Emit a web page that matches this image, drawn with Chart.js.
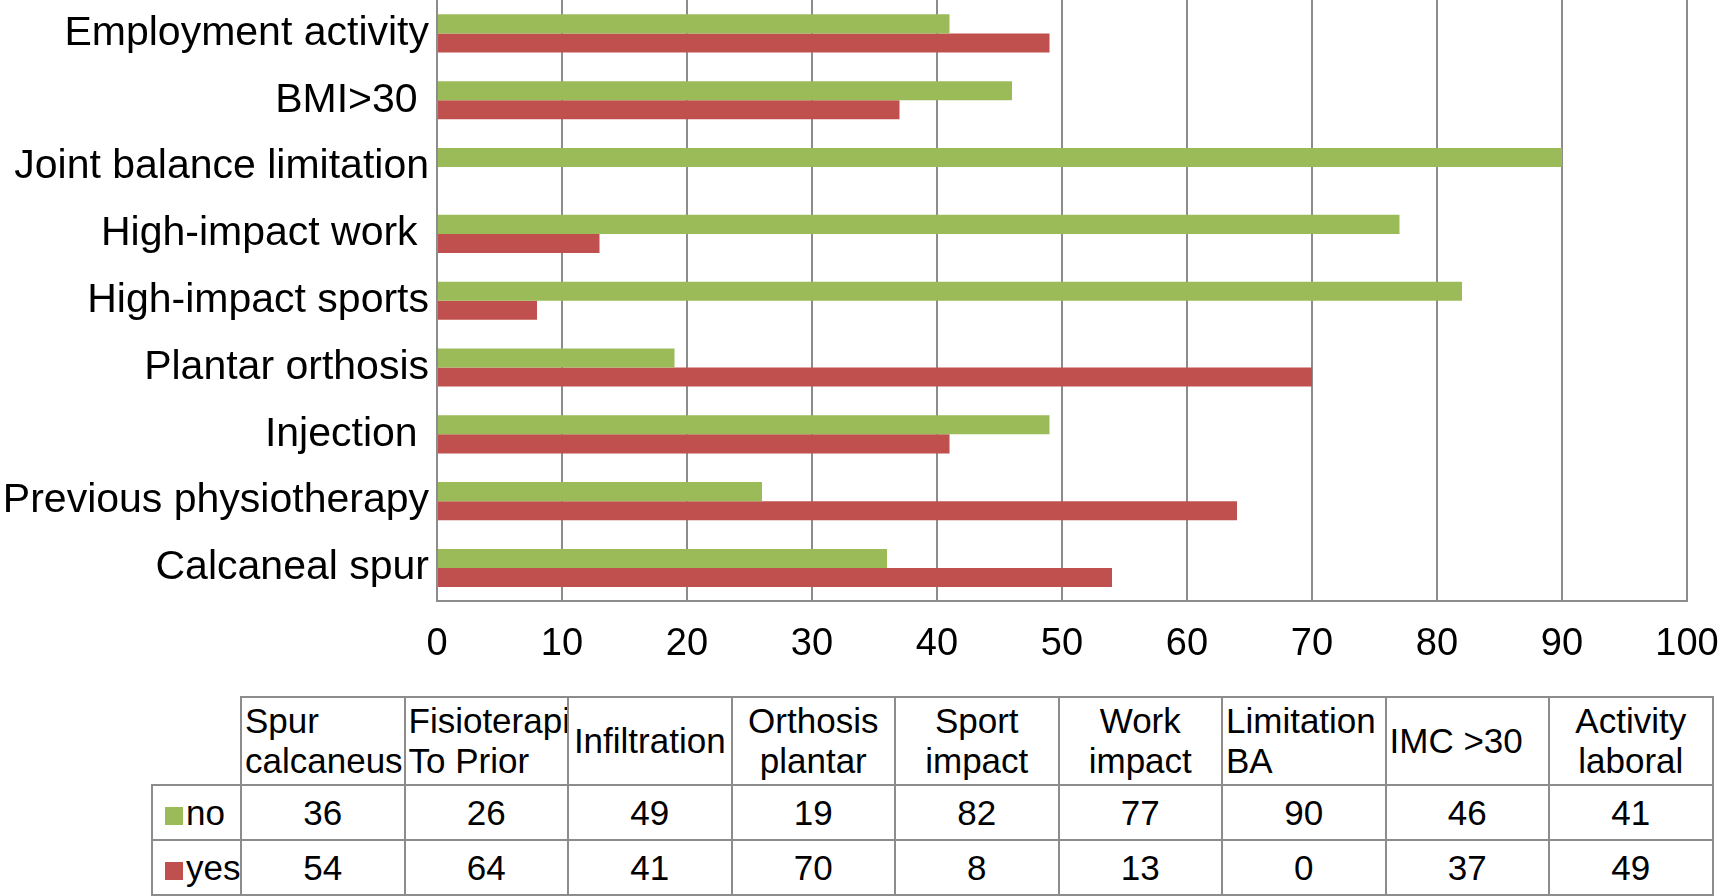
<!DOCTYPE html>
<html>
<head>
<meta charset="utf-8">
<script src="https://cdn.jsdelivr.net/npm/chart.js@4/dist/chart.umd.min.js"></script>
<style>
html,body{margin:0;padding:0;background:#fff;width:1727px;height:896px;overflow:hidden;font-family:'Liberation Sans',Arial,Helvetica,sans-serif;}
#wrap{position:absolute;left:0;top:0;width:1727px;height:687px;}
#tbl{position:absolute;left:151px;top:696px;border-collapse:collapse;table-layout:fixed;width:1561px;}
#tbl td{border:2px solid #8c8c8c;padding:0;font-size:35px;color:#000;text-align:center;vertical-align:middle;line-height:40px;white-space:pre-line;overflow:hidden;}
#tbl td.blank{border:none;}
#tbl td.leg{text-align:left;padding-left:12px;white-space:nowrap;}
#tbl tr.head td{height:86px;}
#tbl tr.row td{height:53px;}
.sw{display:inline-block;width:18px;height:18px;margin-right:3px;vertical-align:baseline;}
</style>
</head>
<body>
<div id="wrap"><canvas id="c" width="1727" height="687"></canvas></div>
<table id="tbl"></table>
<script>
// Categories (bottom to top in the chart, left to right in the table)
const categories = ["Calcaneal spur","Previous physiotherapy","Injection ","Plantar orthosis","High-impact sports","High-impact work ","Joint balance limitation","BMI>30 ","Employment activity"];
const tableHeaders = ["Spur\ncalcaneus","Fisioterapi\nTo Prior","Infiltration","Orthosis\nplantar","Sport\nimpact","Work\nimpact","Limitation\nBA","IMC >30","Activity\nlaboral"];
const seriesNames = ["no","yes"];
const noValues  = [36,26,49,19,82,77,90,46,41];
const yesValues = [54,64,41,70,8,13,0,37,49];
const seriesColors = ["#9BBB59","#C0504D"];
// header text alignment per column (style only)
const headerAlign = ["left","left","center","center","center","center","left","left","center"];

const FONT = "'Liberation Sans', Arial, Helvetica, sans-serif";
const GRID = "#8c8c8c";

new Chart(document.getElementById('c'), {
  type: 'bar',
  data: {
    labels: categories,
    datasets: [
      {label: seriesNames[0], data: noValues, backgroundColor: seriesColors[0], categoryPercentage: 0.57, barPercentage: 1.0},
      {label: seriesNames[1], data: yesValues, backgroundColor: seriesColors[1], categoryPercentage: 0.57, barPercentage: 1.0}
    ]
  },
  options: {
    indexAxis: 'y',
    responsive: false,
    animation: false,
    layout: {padding: {left: 0, right: 40, top: 0, bottom: 0}},
    plugins: {legend: {display: false}, tooltip: {enabled: false}},
    scales: {
      x: {
        min: 0, max: 100,
        ticks: {stepSize: 10, color: '#000', font: {family: FONT, size: 38}, padding: 20, maxRotation: 0, autoSkip: false},
        grid: {color: GRID, lineWidth: 2, drawTicks: false},
        border: {color: GRID, width: 2},
        afterFit: function(s){ s.paddingLeft = 0; s.paddingRight = 0; }
      },
      y: {
        reverse: true,
        ticks: {color: '#000', font: {family: FONT, size: 41}, padding: 8, autoSkip: false},
        grid: {display: false, drawTicks: false},
        border: {color: GRID, width: 2},
        afterFit: function(s){ s.width = 437; s.paddingTop = 0; s.paddingBottom = 0; }
      }
    }
  }
});

// Data table
const tbl = document.getElementById('tbl');
const cg = document.createElement('colgroup');
const c0 = document.createElement('col'); c0.style.width = '89px'; cg.appendChild(c0);
tableHeaders.forEach(() => { const c = document.createElement('col'); c.style.width = '163.5px'; cg.appendChild(c); });
tbl.appendChild(cg);
const hr = document.createElement('tr'); hr.className = 'head';
const blank = document.createElement('td'); blank.className = 'blank'; hr.appendChild(blank);
tableHeaders.forEach((h, i) => {
  const td = document.createElement('td'); td.textContent = h;
  td.style.textAlign = headerAlign[i];
  if (headerAlign[i] === 'left') td.style.paddingLeft = '3px';
  hr.appendChild(td);
});
tbl.appendChild(hr);
[noValues, yesValues].forEach((vals, i) => {
  const tr = document.createElement('tr'); tr.className = 'row';
  const lg = document.createElement('td'); lg.className = 'leg';
  const sw = document.createElement('span'); sw.className = 'sw'; sw.style.background = seriesColors[i];
  lg.appendChild(sw); lg.appendChild(document.createTextNode(seriesNames[i]));
  tr.appendChild(lg);
  vals.forEach(v => { const td = document.createElement('td'); td.textContent = v; tr.appendChild(td); });
  tbl.appendChild(tr);
});
</script>
</body>
</html>
